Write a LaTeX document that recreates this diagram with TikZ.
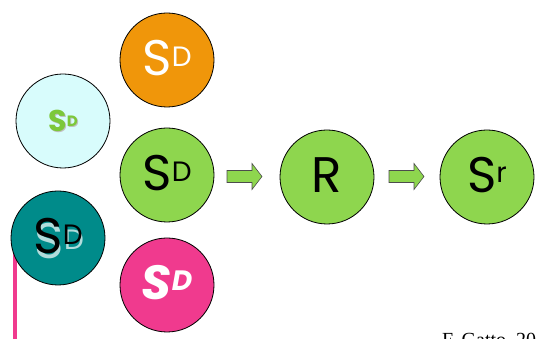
\documentclass[tikz,border=0pt]{standalone}
\usepackage{fontspec}
\setmainfont{Poppins}
\newfontfamily\footfont{Liberation Serif}
\definecolor{cOrange}{HTML}{F0960A}
\definecolor{cGreen}{HTML}{8ED64E}
\definecolor{cCyan}{HTML}{D8FCFC}
\definecolor{cTeal}{HTML}{008B8A}
\definecolor{cPink}{HTML}{F03A8E}
\definecolor{cTxtGreen}{HTML}{7CC83A}
\tikzset{
  ball/.style={circle, draw=black, line width=0.8pt, minimum size=94pt, inner sep=0pt},
  blockarrow/.style={fill=cGreen, draw=black!70, line width=0.6pt, line join=miter},
}
\newcommand{\bigSD}{S\raisebox{9pt}{\fontsize{28}{28}\selectfont D}}
\newcommand{\smallSD}{S\raisebox{5pt}{\fontsize{15}{15}\selectfont D}}
\begin{document}
\begin{tikzpicture}[x=1pt,y=-1pt]
\useasboundingbox (0,0) rectangle (539,339);
\clip (0,0) rectangle (539,339);
% pink bar behind teal circle
\fill[cPink] (13,222) rectangle (17,339);
\node[ball, fill=cOrange] (orange) at (167,60) {};
\node[ball, fill=cCyan] (cyan) at (63,121) {};
\node[ball, fill=cGreen] (green) at (167,175) {};
\node[ball, fill=cTeal] (teal) at (58,238) {};
\node[ball, fill=cPink] (pink) at (167,285) {};
\node[ball, fill=cGreen] (r) at (327,177) {};
\node[ball, fill=cGreen] (sr) at (487,177) {};
% labels
\node[text=white, font=\fontsize{50}{50}\selectfont] at ([yshift=2]orange.center) {\bigSD};
\node[text=black!25, font=\fontsize{30}{30}\selectfont\bfseries] at ([shift={(1,1)}]cyan.center) {\smallSD};
\node[text=cTxtGreen, font=\fontsize{30}{30}\selectfont\bfseries] (cyanlbl) at (cyan.center) {\smallSD};
\node[text=black, font=\fontsize{50}{50}\selectfont] at ([yshift=2]green.center) {\bigSD};
\node[text=white!70!cTeal, font=\fontsize{50}{50}\selectfont] at ([shift={(1.3,3.3)}]teal.center) {\bigSD};
\node[text=black, font=\fontsize{50}{50}\selectfont] at ([yshift=2]teal.center) {\bigSD};
\node[text=white, font=\fontsize{48}{48}\selectfont\bfseries\itshape] at ([yshift=2]pink.center) {\bigSD};
\node[text=black, font=\fontsize{50}{50}\selectfont] at ([yshift=2]r.center) {R};
\node[text=black, font=\fontsize{50}{50}\selectfont] at ([yshift=2]sr.center) {S\raisebox{10pt}{\fontsize{28}{28}\selectfont r}};
% block arrows
\coordinate (a1) at (227,176.5);
\coordinate (a2) at (389,176.5);
\foreach \a in {a1,a2}{
  \draw[blockarrow] ([shift={(0,-6)}]\a) -- ++(25,0) -- ++(0,-7) -- ++(10,13) -- ++(-10,13) -- ++(0,-7) -- ++(-25,0) -- cycle;
}
% footer (cut off at the bottom edge, as in the reference)
\node[anchor=base west, font=\footfont\fontsize{20}{20}\selectfont, inner sep=0pt] (foot) at (442,347) {F. Gatto, 20};
\end{tikzpicture}
\end{document}
